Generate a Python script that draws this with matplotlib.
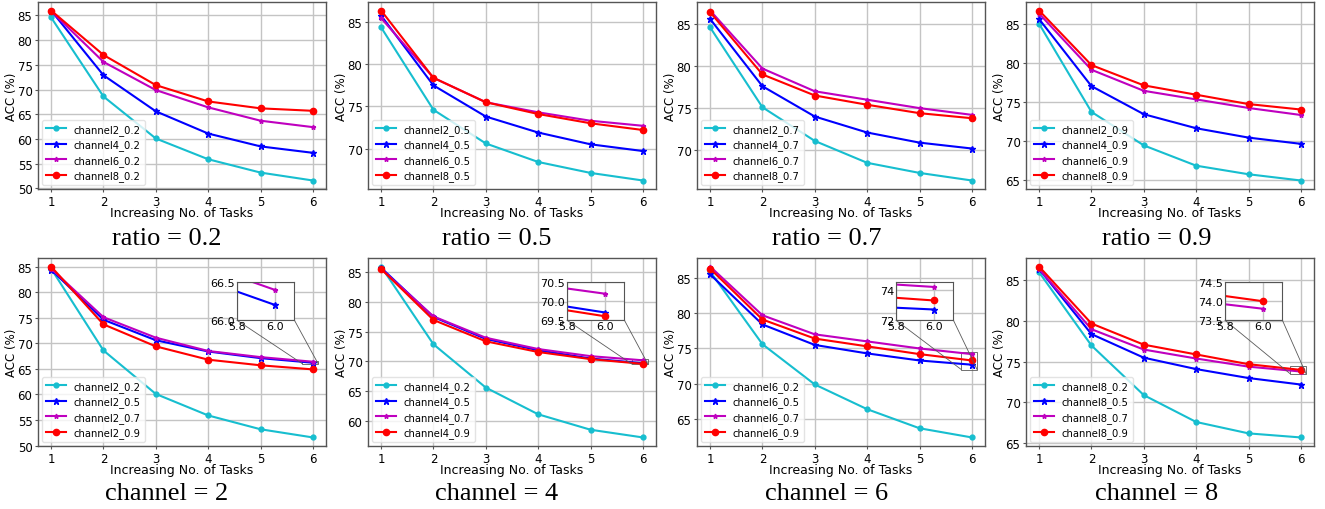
import numpy as np
import matplotlib
matplotlib.use("Agg")
import matplotlib.pyplot as plt
from matplotlib.ticker import MultipleLocator
from mpl_toolkits.axes_grid1.inset_locator import mark_inset

tasks = [1, 2, 3, 4, 5, 6]
channels = [2, 4, 6, 8]
ratios = ["0.2", "0.5", "0.7", "0.9"]

# ACC (%) per channel, one row per ratio (0.2, 0.5, 0.7, 0.9)
acc_ch2 = [
    [84.6, 68.6, 60.1, 55.9, 53.2, 51.6],
    [84.4, 74.6, 70.6, 68.4, 67.1, 66.2],
    [84.6, 75.1, 71.1, 68.5, 67.3, 66.4],
    [85.0, 73.7, 69.4, 66.8, 65.7, 64.9],
]
acc_ch4 = [
    [86.0, 72.9, 65.6, 61.1, 58.5, 57.2],
    [85.8, 77.5, 73.8, 71.9, 70.5, 69.7],
    [85.6, 77.6, 74.0, 72.1, 70.9, 70.2],
    [85.6, 77.0, 73.4, 71.6, 70.4, 69.6],
]
acc_ch6 = [
    [85.9, 75.6, 69.9, 66.4, 63.7, 62.4],
    [85.5, 78.4, 75.5, 74.3, 73.3, 72.7],
    [86.6, 79.7, 77.0, 76.0, 75.0, 74.2],
    [86.3, 79.1, 76.4, 75.3, 74.2, 73.3],
]
acc_ch8 = [
    [86.0, 77.0, 70.9, 67.6, 66.2, 65.7],
    [86.4, 78.4, 75.5, 74.1, 73.0, 72.2],
    [86.4, 79.0, 76.5, 75.4, 74.4, 73.8],
    [86.7, 79.7, 77.1, 75.9, 74.7, 74.0],
]
acc = np.array([acc_ch2, acc_ch4, acc_ch6, acc_ch8])  # [channel, ratio, task]

# zoom windows for bottom row insets
inset_ylim = [(66.0, 66.5), (69.5, 70.5), (72.0, 74.5), (73.5, 74.5)]
inset_yticks = [[66.0, 66.5], [69.5, 70.0, 70.5], [72, 74], [73.5, 74.0, 74.5]]

colors = ["#17becf", "#0000ff", "#bf00bf", "#ff0000"]
markers = ["o", "*", "*", "o"]
msizes = [3.5, 4.5, 3.5, 4.5]

plt.rcParams["font.family"] = "DejaVu Sans"

fig = plt.figure(figsize=(13.25, 5.10), dpi=100)
W, H = 1325, 510
lefts = [38, 368, 697, 1026]
aw = 288


def style_ax(ax):
    ax.grid(True, color="#c4c4c4", linewidth=1.0)
    ax.set_axisbelow(True)
    for s in ax.spines.values():
        s.set_color("#555555")
        s.set_linewidth(1.0)
    ax.tick_params(labelsize=8.5, length=2.5, width=0.8, color="#555555", pad=1.5)
    ax.yaxis.set_major_locator(MultipleLocator(5))


def draw(ax, series, labels):
    for i, y in enumerate(series):
        ax.plot(tasks, y, color=colors[i], marker=markers[i], markersize=msizes[i],
                linewidth=1.5, label=labels[i])


def finish(ax):
    ax.set_xticks(tasks)
    ax.set_xlabel("Increasing No. of Tasks", fontsize=9, labelpad=-1)
    ax.set_ylabel("ACC (%)", fontsize=8.5, labelpad=0)
    ax.legend(loc="lower left", fontsize=7.2, frameon=True, edgecolor="#dddddd",
              borderaxespad=0.4, handlelength=2.0, labelspacing=0.45)


# top row: fixed ratio
for j, r in enumerate(ratios):
    ax = fig.add_axes([lefts[j] / W, (510 - 190) / H, aw / W, 187 / H])
    draw(ax, acc[:, j, :], [f"channel{c}_{r}" for c in channels])
    style_ax(ax)
    finish(ax)
    fig.text((167 + 330 * j) / W, 1 - 239 / H, f"ratio = {r}", ha="center", va="center",
             fontsize=19, family="Liberation Serif")

# bottom row: fixed channel
for j, c in enumerate(channels):
    ax = fig.add_axes([lefts[j] / W, (510 - 447) / H, aw / W, 188 / H])
    draw(ax, acc[j], [f"channel{c}_{r}" for r in ratios])
    style_ax(ax)
    finish(ax)
    fig.text((167 + 330 * j) / W, 1 - 494 / H, f"channel = {c}", ha="center", va="center",
             fontsize=19, family="Liberation Serif")

    axins = ax.inset_axes([0.69, 0.67, 0.20, 0.20])
    draw(axins, acc[j], [None] * 4)
    axins.set_xlim(5.8, 6.1)
    axins.set_ylim(*inset_ylim[j])
    axins.set_xticks([5.8, 6.0])
    axins.set_yticks(inset_yticks[j])
    axins.set_xticklabels(["5.8", "6.0"])
    axins.grid(True, color="#c4c4c4", linewidth=1.0)
    for s in axins.spines.values():
        s.set_color("#555555")
    axins.tick_params(labelsize=8, length=0, pad=1)
    mark_inset(ax, axins, loc1=3, loc2=4, fc="none", ec="0.35", lw=0.6)

fig.savefig("out.png", dpi=100)
